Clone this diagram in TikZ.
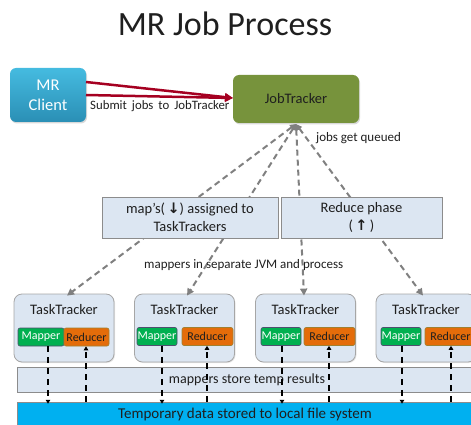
\documentclass[tikz,border=0pt]{standalone}
\usepackage{fontspec}
\setmainfont{Carlito}
\newfontfamily\symfont{DejaVu Sans}
\usetikzlibrary{arrows.meta,shadows}
\definecolor{boxblue}{HTML}{DCE6F2}
\definecolor{boxline}{HTML}{8C8C8C}
\definecolor{ttline}{HTML}{A6A6A6}
\definecolor{mapgreen}{HTML}{00B050}
\definecolor{mapline}{HTML}{4F4F6F}
\definecolor{redorange}{HTML}{E46C0A}
\definecolor{redline}{HTML}{A08030}
\definecolor{fsblue}{HTML}{00B0F0}
\definecolor{arrowred}{HTML}{A50021}
\definecolor{jtgreen}{HTML}{77933C}
\definecolor{txt}{HTML}{1F1F1F}
\definecolor{dashgray}{HTML}{808080}
\definecolor{clienttop}{HTML}{45BBE0}
\definecolor{clientbot}{HTML}{2A8FB5}
\begin{document}
\begin{tikzpicture}[x=1pt,y=-1pt,
  every node/.style={text=txt,inner sep=0pt},
  titletext/.style={font=\fontsize{34}{40}\selectfont},
  lbl/.style={font=\fontsize{13}{16}\selectfont},
  midbox/.style={draw=boxline,fill=boxblue,line width=0.8pt,minimum height=41pt,align=center,font=\fontsize{14.5}{18}\selectfont,drop shadow={shadow xshift=1pt,shadow yshift=-1pt,opacity=0.25}},
  ttbox/.style={draw=ttline,fill=boxblue,line width=0.8pt,rounded corners=8pt,minimum width=100pt,minimum height=68pt,drop shadow={shadow xshift=1pt,shadow yshift=-1pt,opacity=0.2}},
  tttitle/.style={font=\fontsize{14.5}{17}\selectfont,anchor=base},
  mapbox/.style={draw=mapline,fill=mapgreen,line width=0.6pt,rounded corners=2pt,minimum height=18pt,text=white,font=\fontsize{12}{14}\selectfont},
  redbox/.style={draw=redline,fill=redorange,line width=0.6pt,rounded corners=2pt,minimum height=18pt,text=txt,font=\fontsize{12}{14}\selectfont},
  bar/.style={draw=boxline,fill=boxblue,line width=0.8pt,minimum width=463pt},
  grayarrow/.style={draw=dashgray,line width=2pt,dash pattern=on 6pt off 4pt,{Triangle[length=6pt,width=6pt]}-{Triangle[length=7pt,width=7pt]}},
  redarrow/.style={draw=arrowred,line width=2.5pt,-{Triangle[length=8pt,width=8pt]}},
  blackdash/.style={draw=black,line width=1.6pt,dash pattern=on 6pt off 5pt,-{Triangle[length=4pt,width=4.5pt]}}
]
\useasboundingbox (0,0) rectangle (471,425);

% title
\node[titletext,anchor=base] (title) at (225,36) {MR Job Process};

% top nodes
\node[rounded corners=6pt,top color=clienttop,bottom color=clientbot,minimum width=76pt,minimum height=54pt,
      align=center,text=white,font=\fontsize{16.5}{20}\selectfont,
      drop shadow={shadow xshift=1pt,shadow yshift=-1.5pt,opacity=0.3}] (client) at (48,95) {MR\\Client};
\node[rounded corners=6pt,fill=jtgreen,minimum width=126pt,minimum height=48pt,
      font=\fontsize{14.5}{17}\selectfont,
      drop shadow={shadow xshift=1pt,shadow yshift=-1.5pt,opacity=0.3}] (jt) at (296,99) {JobTracker};

\coordinate (c1) at (86,82);
\coordinate (c2) at (86,95);
\coordinate (jtin) at (233,98);
\draw[redarrow] (c1) -- (jtin);
\draw[redarrow] (c2) -- (jtin);
\node[lbl,anchor=base west,font=\fontsize{12.8}{15}\selectfont] (submit) at (90,110) {Submit\, jobs\, to\, JobTracker};
\node[lbl,anchor=base west] (queued) at (316,142) {jobs get queued};

% task trackers
\node[ttbox] (tt1) at (64,328) {};
\node[ttbox] (tt2) at (184.5,328) {};
\node[ttbox] (tt3) at (305.5,328) {};
\node[ttbox] (tt4) at (426,328) {};

% gray dashed connectors
\coordinate (jtout) at (296,124);
\draw[grayarrow] (jtout) -- ([xshift=3pt,yshift=-2pt]tt1.north);
\draw[grayarrow] (jtout) -- ([xshift=2.5pt,yshift=-2pt]tt2.north);
\draw[grayarrow] (jtout) -- ([xshift=-1.5pt,yshift=-2pt]tt3.north);
\draw[grayarrow] (jtout) -- ([xshift=-3pt,yshift=-2pt]tt4.north);

% middle boxes
\node[midbox,minimum width=176pt] (mapbox) at (190,217.5) {map's(\,{\symfont\bfseries ↓}) assigned to\\TaskTrackers};
\node[midbox,minimum width=161pt] (redbox) at (361.5,217.5) {Reduce phase\\(\,{\symfont\bfseries ↑}\,)};

\node[lbl,anchor=base west] (jvm) at (144,268) {mappers in separate JVM and process};

% task tracker contents
\node[tttitle] (tl1) at (64,314) {TaskTracker};
\node[tttitle] (tl2) at (184.5,314) {TaskTracker};
\node[tttitle] (tl3) at (305.5,314) {TaskTracker};
\node[tttitle] (tl4) at (426,314) {TaskTracker};

\node[mapbox,minimum width=46pt] (m1) at (41,337) {Mapper};
\node[redbox,minimum width=45pt] (r1) at (86.5,337) {Reducer};
\node[mapbox,minimum width=40pt] (m2) at (157,336.5) {Mapper};
\node[redbox,minimum width=51pt] (r2) at (207.5,336.5) {Reducer};
\node[mapbox,minimum width=40pt] (m3) at (281,336.5) {Mapper};
\node[redbox,minimum width=51pt] (r3) at (329.5,336.5) {Reducer};
\node[mapbox,minimum width=40pt] (m4) at (401,336.5) {Mapper};
\node[redbox,minimum width=51pt] (r4) at (450.5,336.5) {Reducer};

% bars
\node[bar,minimum height=25pt] (tmp) at (248.5,379.5) {};
\node[font=\fontsize{14}{17}\selectfont,anchor=base] (tmptxt) at (247,383) {mappers store temp results};
\node[draw=boxline,line width=0.5pt,fill=fsblue,minimum width=463pt,minimum height=30pt] (fs) at (248.5,417) {};
\node[font=\fontsize{15}{18}\selectfont,anchor=base] (fstxt) at (245,418) {Temporary data stored to local file system};

% black dashed connectors
\draw[blackdash] ([xshift=7pt]m1.south) -- ([xshift=7pt,yshift=-2pt]m1.south |- fs.north);
\draw[blackdash] ([xshift=5pt]m2.south) -- ([xshift=5pt,yshift=-2pt]m2.south |- fs.north);
\draw[blackdash] ([xshift=1pt]m3.south) -- ([xshift=1pt,yshift=-2pt]m3.south |- fs.north);
\draw[blackdash] ([xshift=1pt]m4.south) -- ([xshift=1pt,yshift=-2pt]m4.south |- fs.north);
\draw[blackdash] ([xshift=-0.5pt]r1.south |- fs.north) -- ([xshift=-0.5pt]r1.south);
\draw[blackdash] ([xshift=-0.5pt]r2.south |- fs.north) -- ([xshift=-0.5pt]r2.south);
\draw[blackdash] ([xshift=-0.5pt]r3.south |- fs.north) -- ([xshift=-0.5pt]r3.south);
\draw[blackdash] ([xshift=0.5pt]r4.south |- fs.north) -- ([xshift=0.5pt]r4.south);
\end{tikzpicture}
\end{document}
